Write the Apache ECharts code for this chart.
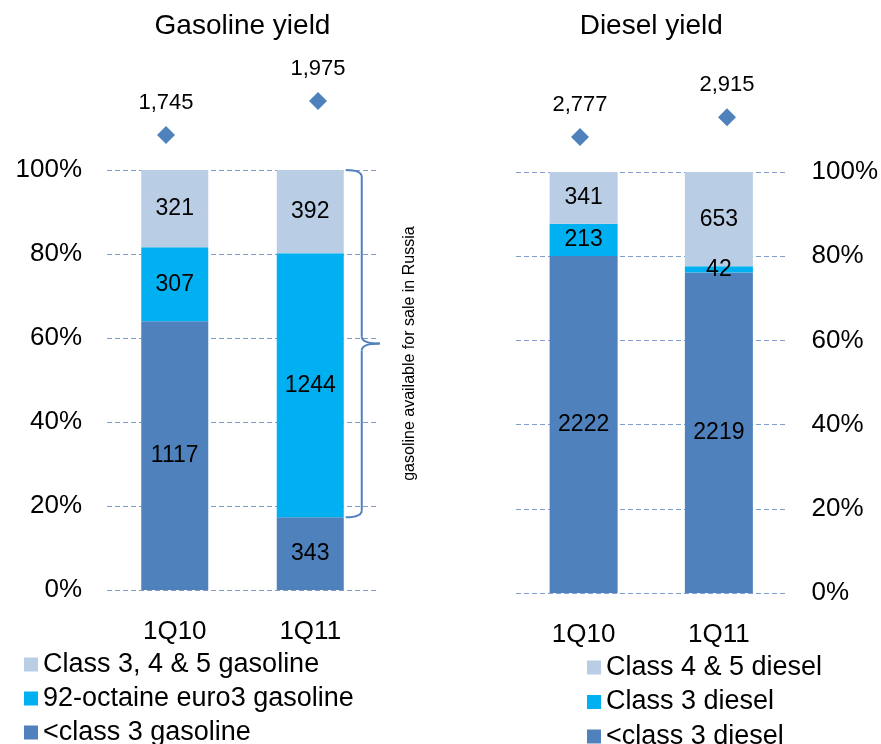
<!DOCTYPE html>
<html>
<head>
<meta charset="utf-8">
<script src="https://cdn.jsdelivr.net/npm/echarts@6/dist/echarts.min.js"></script>
<style>
  html, body { margin: 0; padding: 0; background: #ffffff; }
  #chart { width: 881px; height: 744px; }
</style>
</head>
<body>
<div id="chart"></div>
<script>
// Quarters shown on both panels
const quarters = ['1Q10', '1Q11'];

// Gasoline output by grade (thousand tonnes)
const gasolineLow = [1117, 343];      // <class 3 gasoline
const gasolineEuro3 = [307, 1244];    // 92-octaine euro3 gasoline
const gasolineHigh = [321, 392];      // Class 3, 4 & 5 gasoline
const gasolineTotals = [1745, 1975];

// Diesel output by grade (thousand tonnes)
const dieselLow = [2222, 2219];       // <class 3 diesel
const dieselClass3 = [213, 42];       // Class 3 diesel
const dieselHigh = [341, 653];        // Class 4 & 5 diesel
const dieselTotals = [2777, 2915];

// Percent axis ticks
const percentTicks = [0, 20, 40, 60, 80, 100];

const FONT = '"Liberation Sans", Arial, sans-serif';
const C_LOW = '#4F81BD', C_MID = '#00B0F0', C_HIGH = '#B9CDE5';
const GRID_LINE = '#7E9DCB';

function shares(parts) {
  // parts: list of arrays, returns percentage share per quarter
  return parts.map(arr => arr.map((v, i) => {
    const sum = parts.reduce((s, a) => s + a[i], 0);
    return { value: v / sum * 100, raw: v };
  }));
}

const gasShares = shares([gasolineLow, gasolineEuro3, gasolineHigh]);
const dslShares = shares([dieselLow, dieselClass3, dieselHigh]);

function barSeries(name, data, color, axis, width) {
  return {
    name, type: 'bar', stack: 'yield' + axis,
    xAxisIndex: axis, yAxisIndex: axis,
    barWidth: width, data,
    itemStyle: { color, opacity: 1 },
    label: {
      show: true, position: 'inside', color: '#000',
      fontFamily: FONT, fontSize: 23,
      formatter: p => String(p.data.raw)
    },
    emphasis: { disabled: true }
  };
}

function totalSeries(data, axis) {
  return {
    type: 'scatter', xAxisIndex: axis, yAxisIndex: axis,
    symbol: 'diamond', symbolSize: 18,
    itemStyle: { color: C_LOW, opacity: 1 },
    data,
    label: {
      show: true, position: 'top', distance: 12, color: '#000',
      fontFamily: FONT, fontSize: 22,
      formatter: p => p.value.toLocaleString('en-US')
    },
    emphasis: { disabled: true }
  };
}

function pctAxis(gridIndex, position) {
  return {
    type: 'value', gridIndex, position, min: 0, max: 100, interval: 20,
    axisLine: { show: false }, axisTick: { show: false },
    axisLabel: {
      formatter: v => percentTicks.includes(v) ? v + '%' : '',
      color: '#000', fontFamily: FONT, fontSize: 26, margin: 25
    },
    splitLine: { show: true, lineStyle: { color: GRID_LINE, type: [5, 3], width: 1 } }
  };
}

function catAxis(gridIndex, showLabel) {
  return {
    type: 'category', gridIndex, data: quarters,
    axisLine: { show: false }, axisTick: { show: false },
    axisLabel: { show: showLabel, color: '#000', fontFamily: FONT, fontSize: 26, margin: 29 }
  };
}

function hiddenValueAxis(gridIndex, min, max) {
  return { type: 'value', gridIndex, min, max, show: false, splitLine: { show: false } };
}

function legendBlock(left, top, gap, names) {
  return {
    orient: 'vertical', left, top, height: 150, padding: 0, itemGap: gap,
    itemWidth: 14, itemHeight: 14, icon: 'rect',
    selectedMode: false,
    textStyle: { color: '#000', fontFamily: FONT, fontSize: 27, lineHeight: 24 },
    data: names
  };
}

const chart = echarts.init(document.getElementById('chart'), null, { renderer: 'canvas' });

const option = {
  animation: false,
  backgroundColor: '#ffffff',
  grid: [
    { left: 107, top: 170, width: 271, height: 420 },       // gasoline bars
    { left: 516, top: 172, width: 272, height: 421 },       // diesel bars
    { left: 90, top: 23.5, width: 304, height: 369.5 },     // gasoline totals
    { left: 506.5, top: 33.7, width: 294, height: 357 }     // diesel totals
  ],
  xAxis: [catAxis(0, true), catAxis(1, true), catAxis(2, false), catAxis(3, false)],
  yAxis: [
    pctAxis(0, 'left'), pctAxis(1, 'right'),
    hiddenValueAxis(2, 0, 2500), hiddenValueAxis(3, 1000, 3500)
  ],
  legend: [
    legendBlock(24, 651, 7, ['Class 3, 4 & 5 gasoline', '92-octaine euro3 gasoline', '<class 3 gasoline']),
    legendBlock(587, 654, 7.5, ['Class 4 & 5 diesel', 'Class 3 diesel', '<class 3 diesel'])
  ],
  series: [
    barSeries('<class 3 gasoline', gasShares[0], C_LOW, 0, 67),
    barSeries('92-octaine euro3 gasoline', gasShares[1], C_MID, 0, 67),
    barSeries('Class 3, 4 & 5 gasoline', gasShares[2], C_HIGH, 0, 67),
    barSeries('<class 3 diesel', dslShares[0], C_LOW, 1, 68),
    barSeries('Class 3 diesel', dslShares[1], C_MID, 1, 68),
    barSeries('Class 4 & 5 diesel', dslShares[2], C_HIGH, 1, 68),
    totalSeries(gasolineTotals, 2),
    totalSeries(dieselTotals, 3)
  ]
};

chart.setOption(option);

// Panel titles and the brace marking gasoline available for sale in Russia
function decorate() {
  const leftTop = chart.convertToPixel({ gridIndex: 0 }, [0, 100]);
  const leftRightEdge = chart.convertToPixel({ gridIndex: 0 }, [1, 100]);
  const rightTop = chart.convertToPixel({ gridIndex: 1 }, [0, 100]);
  const rightRightEdge = chart.convertToPixel({ gridIndex: 1 }, [1, 100]);
  const leftCenter = (leftTop[0] + leftRightEdge[0]) / 2;
  const rightCenter = (rightTop[0] + rightRightEdge[0]) / 2;

  // brace beside the 1Q11 gasoline bar, from 100% down to the top of <class 3
  const lowShare = gasShares[0][1].value;
  const barCenter = leftRightEdge[0];
  const yTop = chart.convertToPixel({ gridIndex: 0 }, [1, 100])[1];
  const yBot = chart.convertToPixel({ gridIndex: 0 }, [1, lowShare])[1];
  const yMid = (yTop + yBot) / 2;
  const x0 = barCenter + 67 / 2 + 2;
  const xs = x0 + 16;
  const xt = x0 + 34;
  const r = 7;
  const braceStyle = { stroke: C_LOW, lineWidth: 2, fill: null };

  chart.setOption({
    graphic: [
      {
        type: 'text', x: leftCenter, y: 26,
        style: { text: 'Gasoline yield', fontFamily: FONT, fontSize: 28, fill: '#000', align: 'center', verticalAlign: 'middle' }
      },
      {
        type: 'text', x: rightCenter, y: 26,
        style: { text: 'Diesel yield', fontFamily: FONT, fontSize: 28, fill: '#000', align: 'center', verticalAlign: 'middle' }
      },
      { type: 'bezierCurve', shape: { x1: x0, y1: yTop, cpx1: xs, cpy1: yTop, x2: xs, y2: yTop + r }, style: braceStyle },
      { type: 'line', shape: { x1: xs, y1: yTop + r, x2: xs, y2: yMid - r }, style: braceStyle },
      { type: 'bezierCurve', shape: { x1: xs, y1: yMid - r, cpx1: xs, cpy1: yMid, x2: xt, y2: yMid }, style: braceStyle },
      { type: 'bezierCurve', shape: { x1: xt, y1: yMid, cpx1: xs, cpy1: yMid, x2: xs, y2: yMid + r }, style: braceStyle },
      { type: 'line', shape: { x1: xs, y1: yMid + r, x2: xs, y2: yBot - r }, style: braceStyle },
      { type: 'bezierCurve', shape: { x1: xs, y1: yBot - r, cpx1: xs, cpy1: yBot, x2: x0, y2: yBot }, style: braceStyle },
      {
        type: 'text', x: xt + 30, y: yMid + 10, rotation: Math.PI / 2,
        style: { text: 'gasoline available for sale in Russia', fontFamily: FONT, fontSize: 16, fill: '#000', align: 'center', verticalAlign: 'middle' }
      }
    ]
  });
}
decorate();
</script>
</body>
</html>
